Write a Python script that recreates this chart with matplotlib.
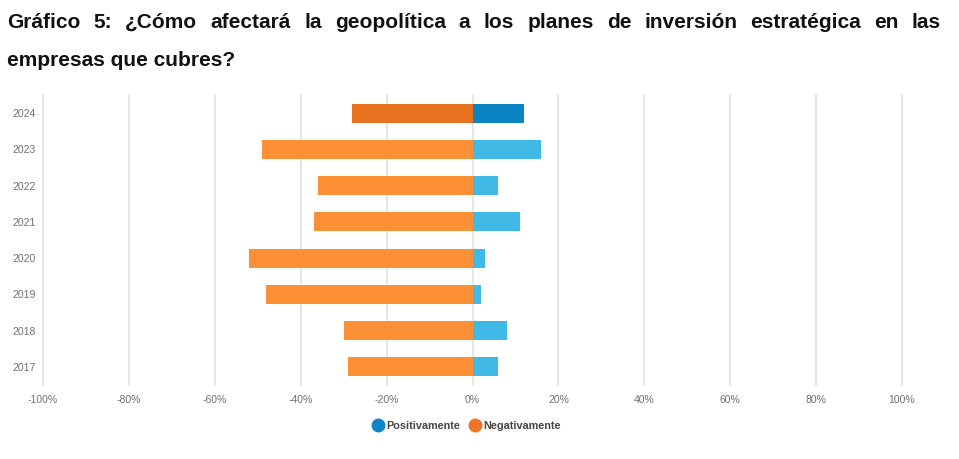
import matplotlib
matplotlib.use("Agg")
from matplotlib import pyplot as plt
from matplotlib.lines import Line2D
import numpy as np

years = ["2024", "2023", "2022", "2021", "2020", "2019", "2018", "2017"]
negativamente = [-28, -49, -36, -37, -52, -48, -30, -29]
positivamente = [12, 16, 6, 11, 3, 2, 8, 6]
x_ticks = [-100, -80, -60, -40, -20, 0, 20, 40, 60, 80, 100]

title_line1 = "Gráfico 5: ¿Cómo afectará la geopolítica a los planes de inversión estratégica en las"
title_line2 = "empresas que cubres?"

W, H = 959, 459
fig = plt.figure(figsize=(W / 100, H / 100), dpi=100)
sans = ["Liberation Sans", "DejaVu Sans"]

# title, first line justified like the source
words = title_line1.split()
texts = [fig.text(0, 1 - 22 / H, w, fontsize=15, fontweight="bold", family=sans,
                  va="center", ha="left", color="#111111") for w in words]
fig.canvas.draw()
r = fig.canvas.get_renderer()
widths = [t.get_window_extent(renderer=r).width for t in texts]
x0, x1 = 7, 941
gap = (x1 - x0 - sum(widths)) / (len(words) - 1)
x = x0
for t, w in zip(texts, widths):
    t.set_x(x / W)
    x += w + gap
fig.text(x0 / W, 1 - 60 / H, title_line2, fontsize=15, fontweight="bold", family=sans,
         va="center", ha="left", color="#111111")

ax = fig.add_axes([43 / W, 1 - 385 / H, (902 - 43) / W, (385 - 95) / H])
y = np.arange(len(years))
neg_colors = ["#E8711F"] + ["#FD8F35"] * (len(years) - 1)
pos_colors = ["#0B84C4"] + ["#41B9E6"] * (len(years) - 1)
ax.barh(y, negativamente, height=0.52, color=neg_colors, zorder=3)
ax.barh(y, positivamente, height=0.52, color=pos_colors, zorder=3)

ax.set_xlim(-100, 100)
ax.set_ylim(len(years) - 0.5, -0.5)
ax.set_yticks(y, labels=years)
ax.set_xticks(x_ticks, labels=[f"{v}%" for v in x_ticks])
ax.tick_params(length=0, labelsize=7.5, labelcolor="#707070")
ax.tick_params(axis="x", pad=7)
ax.tick_params(axis="y", pad=5)
for lab in ax.get_xticklabels() + ax.get_yticklabels():
    lab.set_family(sans)
ax.grid(axis="x", color="#E2E2E2", linewidth=1.2, zorder=0)
for g in ax.get_xgridlines():
    g.set_clip_on(False)
for s in ax.spines.values():
    s.set_visible(False)

handles = [Line2D([], [], marker="o", linestyle="none", markersize=9, color="#1185C8"),
           Line2D([], [], marker="o", linestyle="none", markersize=9, color="#F07428")]
leg = fig.legend(handles, ["Positivamente", "Negativamente"], loc="center",
                 bbox_to_anchor=(467 / W, 1 - 426 / H), ncol=2, frameon=False,
                 handletextpad=0.25, columnspacing=0.9, handlelength=1.0,
                 prop={"family": sans, "weight": "bold", "size": 7.8})
for t in leg.get_texts():
    t.set_color("#444444")

fig.savefig("out.png", dpi=100, facecolor="white")
